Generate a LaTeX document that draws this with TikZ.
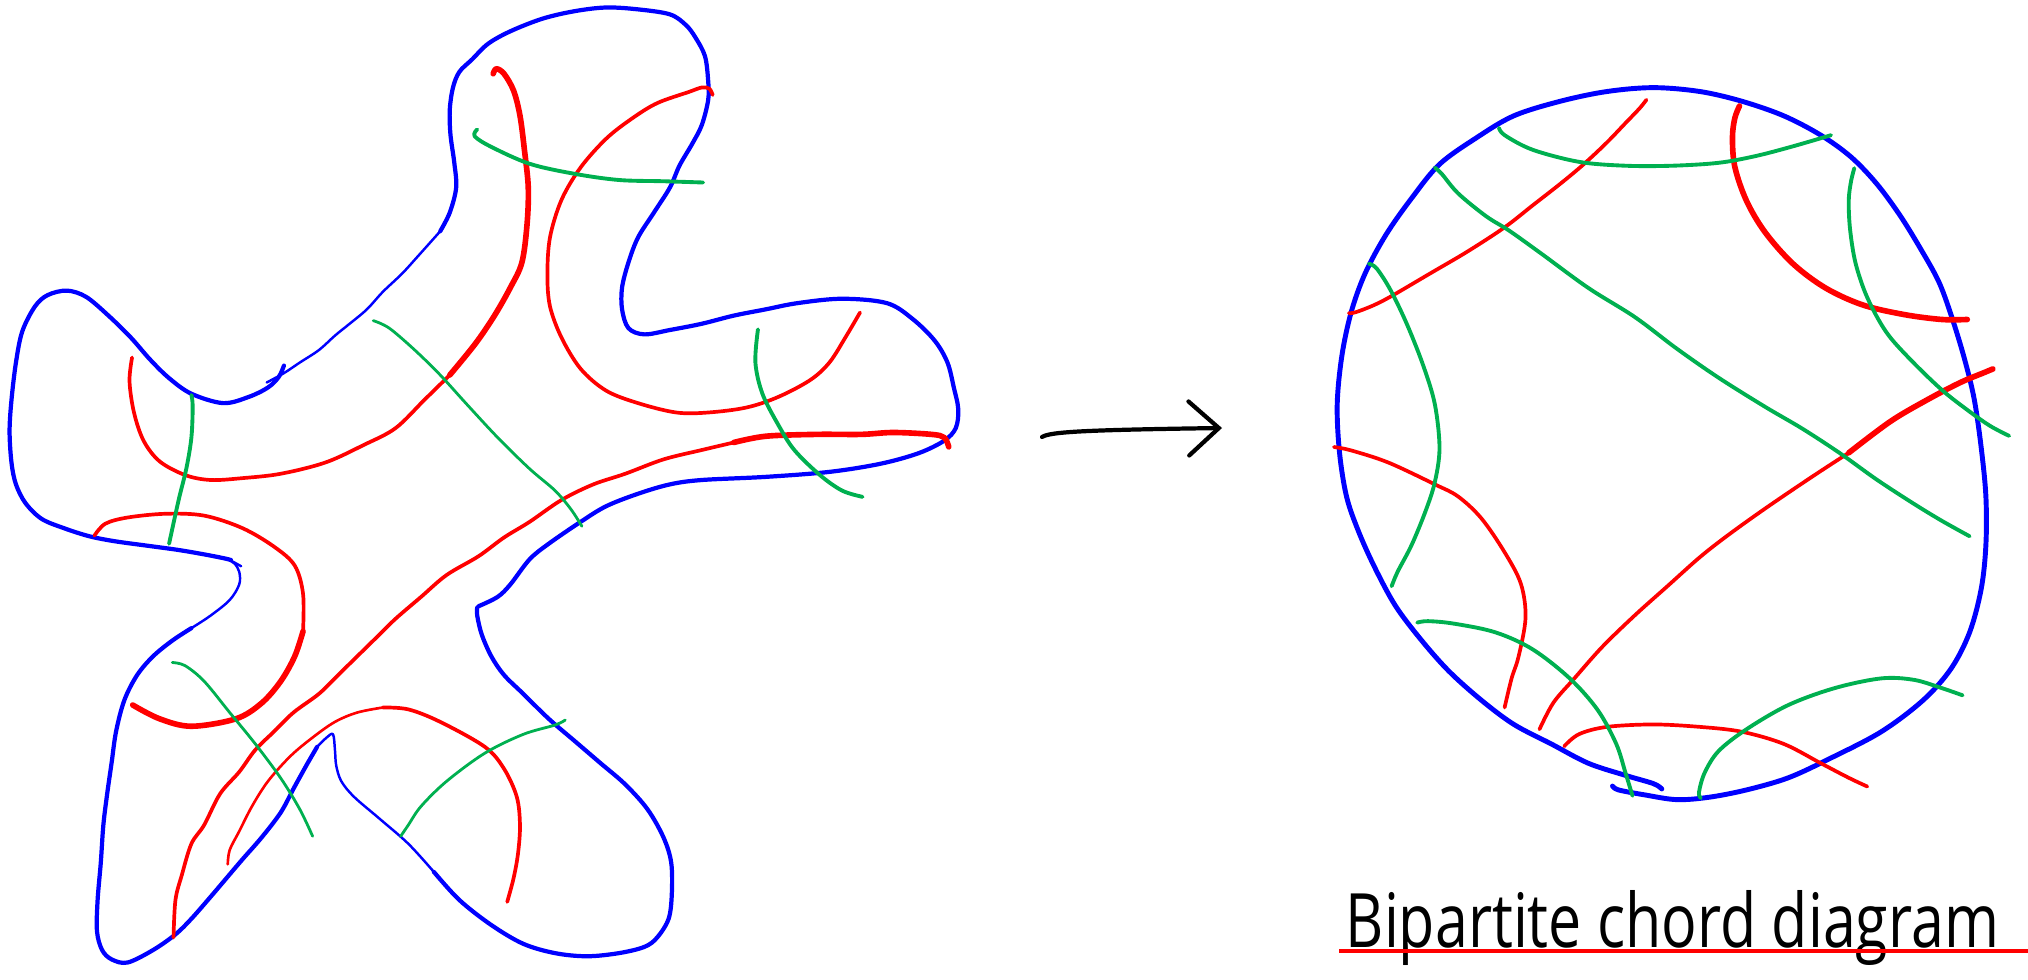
\documentclass[tikz,border=0pt]{standalone}
\usepackage{fontspec}
\usepackage{graphicx}
\usepackage{xcolor}
\usepackage{tikz}
\usetikzlibrary{arrows.meta}
\setmainfont{Open Sans}
\definecolor{penblue}{HTML}{0000FF}
\definecolor{penred}{HTML}{FF0000}
\definecolor{pengreen}{HTML}{00B050}
\definecolor{ink}{HTML}{000000}

\begin{document}
\begin{tikzpicture}[
  x=0.01cm,y=-0.01cm,
  stroke/.style={line cap=round,line join=round},
  bluethick/.style={stroke,draw=penblue,line width=1.2pt},
  bluethin/.style={stroke,draw=penblue,line width=0.7pt},
  redthick/.style={stroke,draw=penred,line width=1.6pt},
  redmid/.style={stroke,draw=penred,line width=1.05pt},
  redthin/.style={stroke,draw=penred,line width=0.75pt},
  greenmid/.style={stroke,draw=pengreen,line width=1.1pt},
  greenthin/.style={stroke,draw=pengreen,line width=0.8pt},
  arrow/.style={stroke,draw=ink,line width=1.2pt,-{Straight Barb[length=3mm,width=5.4mm,line cap=round]}},
  title/.style={anchor=base west,inner sep=0pt,text=ink}
]
\useasboundingbox (0,0) rectangle (2028,979);

\begin{scope}[xscale=0.638,yscale=0.625]
\draw[bluethin] plot[smooth,tension=0.55] coordinates {(418,612) (445,597) (470,580) (500,560) (525,537) (548,518) (575,495) (600,467) (630,438) (655,410) (690,370)};
\draw[bluethick] plot[smooth,tension=0.55] coordinates {(690,370) (705,340) (715,300) (712,260) (706,215) (705,175) (710,140) (720,115) (740,95) (765,70) (800,50) (850,30) (900,18) (950,12) (1000,15) (1050,23) (1075,40) (1090,60) (1105,90) (1110,130) (1110,160) (1100,200) (1085,230) (1065,265) (1050,300) (1025,340) (1000,380) (985,420) (975,460) (975,495) (985,525) (1010,535) (1050,528) (1100,518) (1150,505) (1200,495) (1250,485) (1320,478) (1390,485) (1430,510) (1465,545) (1485,580) (1495,620) (1502,655) (1498,685) (1480,705) (1440,725) (1380,742) (1300,755) (1200,763) (1100,768) (1050,775) (1000,790) (950,810) (910,835) (860,870) (830,895) (800,935) (780,955) (750,970)};
\draw[bluethick] plot[smooth,tension=0.55] coordinates {(748,972) (748,985) (755,1015) (770,1050) (790,1080) (820,1110) (860,1150) (900,1185) (940,1220) (980,1255) (1015,1295) (1040,1340) (1052,1380) (1053,1430) (1048,1470) (1030,1500) (1010,1515) (970,1525) (920,1530) (870,1525) (820,1510) (770,1480) (720,1440) (680,1395)};
\draw[bluethin] plot[smooth,tension=0.55] coordinates {(680,1395) (640,1350) (595,1310) (555,1275) (535,1250) (527,1225) (525,1200) (522,1175) (512,1180) (497,1195)};
\draw[bluethick] plot[smooth,tension=0.55] coordinates {(497,1195) (480,1225) (460,1262) (440,1300) (410,1340) (380,1375) (355,1405) (330,1435) (300,1470) (275,1495) (240,1520) (200,1540) (175,1535) (160,1520) (152,1490) (153,1440) (158,1380) (162,1320) (168,1270) (175,1220) (182,1170) (195,1120) (215,1080) (240,1050) (270,1025) (300,1005)};
\draw[bluethin] plot[smooth,tension=0.55] coordinates {(300,1005) (330,985) (360,960) (375,935) (375,915) (368,902) (360,897)};
\draw[bluethin] (362,897) -- (378,906);
\draw[bluethick] plot[smooth,tension=0.55] coordinates {(362,896) (350,893) (320,887) (280,880) (230,873) (180,866) (140,858) (100,845) (65,830) (40,805) (25,775) (18,740) (15,690) (18,640) (25,580) (35,530) (55,490) (75,472) (105,465) (135,475) (170,505) (205,540) (235,575) (265,605) (300,630) (350,645) (390,635) (420,620) (437,603) (445,585)};

\draw[redthick] plot[smooth,tension=0.55] coordinates {(773,118) (778,110) (790,118) (805,145) (815,185) (822,240) (828,300) (826,360) (818,420) (800,460) (775,505) (745,550) (705,600)};
\draw[redmid] plot[smooth,tension=0.55] coordinates {(705,600) (665,640) (620,685) (570,712) (510,740) (440,758) (380,765) (330,768) (290,760) (250,738) (225,705) (210,660) (203,610) (207,572)};
\draw[redmid] plot[smooth,tension=0.55] coordinates {(1117,152) (1112,142) (1100,140) (1080,147) (1030,165) (990,190) (950,222) (910,268) (880,320) (862,380) (858,440) (862,490) (880,540) (910,590) (950,625) (1000,645) (1060,660) (1110,660) (1170,652) (1220,635) (1270,608) (1300,580) (1325,540) (1348,500)};
\draw[redthick] plot[smooth,tension=0.55] coordinates {(1487,715) (1480,700) (1460,695) (1400,692) (1350,695) (1280,695) (1200,698) (1150,708)};
\draw[redmid] plot[smooth,tension=0.55] coordinates {(1150,708) (1100,720) (1040,735) (980,758) (930,775) (880,800) (830,835) (790,860) (750,890) (700,920) (660,955) (620,990) (590,1020) (560,1050) (530,1080) (500,1110) (460,1140) (430,1170) (400,1200) (375,1235) (345,1270) (320,1320) (300,1350) (285,1400) (275,1440) (272,1500)};
\draw[redmid] plot[smooth,tension=0.55] coordinates {(148,857) (165,838) (200,828) (260,822) (320,825) (380,845) (430,875) (462,905) (475,950) (475,1010)};
\draw[redthick] plot[smooth,tension=0.55] coordinates {(475,1010) (462,1050) (440,1090) (410,1125) (370,1150) (300,1162) (250,1150) (208,1128)};
\draw[redthin] plot[smooth,tension=0.55] coordinates {(357,1383) (360,1360) (375,1330) (395,1290) (420,1250) (455,1210) (490,1180) (525,1155) (560,1140) (600,1132)};
\draw[redmid] plot[smooth,tension=0.55] coordinates {(600,1132) (640,1135) (690,1155) (760,1195) (790,1230) (810,1275) (815,1320) (812,1365) (805,1405) (795,1443)};

\draw[greenmid] plot[smooth,tension=0.55] coordinates {(748,207) (744,218) (770,235) (830,262) (900,278) (970,288) (1040,290) (1102,292)};
\draw[greenthin] plot[smooth,tension=0.55] coordinates {(585,513) (610,525) (650,560) (690,600) (730,645) (780,700) (830,750) (870,785) (895,815) (912,842)};
\draw[greenmid] plot[smooth,tension=0.55] coordinates {(1188,527) (1184,580) (1195,630) (1220,680) (1245,720) (1285,760) (1320,785) (1352,795)};
\draw[greenmid] plot[smooth,tension=0.55] coordinates {(300,632) (302,650) (300,700) (292,750) (280,800) (265,870)};
\draw[greenthin] plot[smooth,tension=0.55] coordinates {(270,1060) (290,1065) (320,1090) (360,1140) (400,1190) (440,1245) (470,1295) (490,1338)};
\draw[greenthin] plot[smooth,tension=0.55] coordinates {(886,1152) (870,1160) (820,1175) (760,1205) (700,1250) (660,1290) (640,1320) (628,1338)};
\end{scope}

\coordinate (arrowtail) at (1042,437);
\coordinate (arrowtip) at (1222,428);
\draw[arrow] (arrowtail) .. controls (1050,432) and (1080,430) .. (arrowtip);

\begin{scope}[shift={(1300,60)},xscale=0.465,yscale=0.485]
\draw[bluethick,line width=1.4pt] plot[smooth,tension=0.55] coordinates {(672,1497) (685,1505) (740,1515) (810,1525) (880,1520) (960,1505) (1050,1480) (1140,1440) (1250,1385) (1340,1320) (1400,1255) (1440,1180) (1465,1090) (1475,1000) (1475,900) (1465,800) (1450,700) (1430,620) (1405,540) (1375,460) (1335,390) (1290,320) (1240,255) (1185,200) (1120,155) (1040,115) (950,85) (860,65) (760,57) (660,65) (560,85) (460,115) (380,160) (300,215) (240,285) (185,360) (140,440) (110,520) (90,610) (80,710) (85,810) (100,900) (125,970) (160,1045) (205,1125) (260,1195) (320,1260) (390,1320) (460,1370) (540,1410) (620,1450) (700,1475) (760,1492) (778,1503)};

\draw[redmid] plot[smooth,tension=0.55] coordinates {(745,82) (730,100) (700,130) (660,170) (610,215) (560,255) (500,300) (440,345) (360,395) (280,440) (200,485) (160,505) (120,520) (105,522)};
\draw[redthick] plot[smooth,tension=0.55] coordinates {(945,95) (935,120) (930,160) (935,220) (960,290) (1000,355) (1060,420) (1130,470) (1210,505) (1300,525) (1380,535) (1435,535)};
\draw[redthick] plot[smooth,tension=0.55] coordinates {(1490,637) (1470,645) (1420,665) (1350,700) (1270,745) (1180,810)};
\draw[redmid] plot[smooth,tension=0.55] coordinates {(1180,810) (1100,860) (1000,925) (920,980) (860,1025) (790,1085) (720,1145) (650,1210) (590,1275) (545,1325) (515,1380)};
\draw[redmid] plot[smooth,tension=0.55] coordinates {(73,798) (110,805) (190,830) (290,875) (340,900) (390,945) (440,1015) (475,1080) (485,1150) (470,1230) (455,1275) (440,1335)};
\draw[redmid] plot[smooth,tension=0.55] coordinates {(568,1415) (600,1390) (660,1375) (760,1370) (860,1375) (950,1385) (1040,1410) (1120,1450) (1180,1480) (1220,1498)};

\draw[greenmid] plot[smooth,tension=0.55] coordinates {(428,140) (440,155) (500,185) (600,210) (700,218) (800,218) (900,212) (980,198) (1060,178) (1142,155)};
\draw[greenmid] plot[smooth,tension=0.55] coordinates {(290,222) (305,235) (340,275) (400,322) (450,352) (520,400) (620,470) (720,530) (810,595) (900,655) (1000,715) (1080,760) (1160,810) (1240,865) (1320,915) (1380,950) (1440,982)};
\draw[greenmid] plot[smooth,tension=0.55] coordinates {(1192,223) (1185,250) (1180,290) (1183,350) (1195,420) (1220,490) (1260,560) (1310,615) (1380,680) (1440,725) (1485,755) (1525,775)};
\draw[greenmid] plot[smooth,tension=0.55] coordinates {(148,420) (165,430) (195,475) (230,545) (265,630) (290,710) (300,800) (290,870) (270,930) (240,1000) (210,1055) (197,1085)};
\draw[greenmid] plot[smooth,tension=0.55] coordinates {(252,1160) (275,1157) (330,1162) (420,1180) (500,1215) (580,1275) (640,1340) (680,1410) (700,1470) (715,1517)};
\draw[greenmid] plot[smooth,tension=0.55] coordinates {(862,1522) (858,1510) (870,1470) (900,1425) (960,1380) (1050,1330) (1150,1295) (1250,1275) (1320,1278) (1380,1295) (1425,1310)};
\end{scope}

\node[title] (caption) at (1345,947) {\resizebox{6.53cm}{0.57cm}{Bipartite chord diagram}};
\draw[redthick,line width=1.1pt,line cap=butt] (1339,951) -- (2028,951);
\end{tikzpicture}
\end{document}
